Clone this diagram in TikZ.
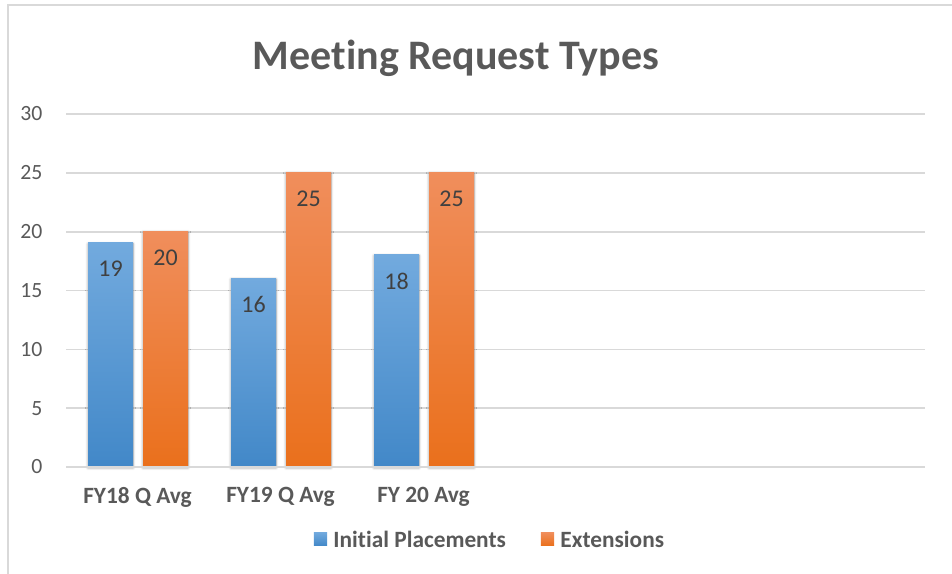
\documentclass[tikz,border=0pt]{standalone}
\usepackage{fontspec}
\setmainfont{Carlito}[Ligatures=NoCommon]
\usetikzlibrary{positioning, shadows.blur}
\definecolor{txtgray}{RGB}{89,89,89}
\definecolor{valgray}{RGB}{64,64,64}
\definecolor{gridgray}{RGB}{217,217,217}
\definecolor{framegray}{RGB}{217,217,217}
\definecolor{blutop}{RGB}{114,170,222}
\definecolor{blubot}{RGB}{66,136,200}
\definecolor{orgtop}{RGB}{240,142,92}
\definecolor{orgbot}{RGB}{234,112,28}
\tikzset{
  bar/.style = {anchor=south, inner sep=0pt, minimum width=33.75pt,
    blur shadow={shadow blur steps=6, shadow xshift=0pt, shadow yshift=-0.8pt, shadow opacity=40}},
  blubar/.style = {bar, top color=blutop, bottom color=blubot},
  orgbar/.style = {bar, top color=orgtop, bottom color=orgbot},
  val/.style = {text=valgray, font=\fontsize{18}{20}\selectfont},
  tick/.style = {text=txtgray, anchor=east, font=\fontsize{16.3}{18}\selectfont},
  cat/.style = {text=txtgray, font=\fontsize{17.5}{20}\selectfont\bfseries},
  key/.style = {inner sep=0pt, minimum size=10pt}
}
\newcommand{\ppu}{8.835pt}% height of one unit
\begin{document}
\begin{tikzpicture}[x=0.75pt, y=-0.75pt]
		\useasboundingbox (0, 0) rectangle (952, 574);
		%%%%%%%%%%%%%
		\draw [framegray, line width=1.5pt] (8, 574) -- (8, 5) -- (952, 5);
		\node [text=txtgray, font=\fontsize{31.5}{36}\selectfont\bfseries] (t) at (456, 58) {Meeting Request Types};
		%%%%%%%%%%%%%
		\foreach \v/\y in {0/467, 5/408.2, 10/349.3, 15/290.5, 20/231.7, 25/172.8, 30/114} {
			\draw [gridgray, line width=1.2pt] (66, \y) -- (925, \y);
			\node [tick] (y\v) at (47, \y) {\v};
		}
		%%%%%%%%%%%%%
		\node [blubar, minimum height=19*\ppu] (b1) at (110.5, 467) {};
		\node [orgbar, minimum height=20*\ppu] (b2) at (165.5, 467) {};
		\node [blubar, minimum height=16*\ppu] (b3) at (253.5, 467) {};
		\node [orgbar, minimum height=25*\ppu] (b4) at (308.5, 467) {};
		\node [blubar, minimum height=18*\ppu] (b5) at (396.5, 467) {};
		\node [orgbar, minimum height=25*\ppu] (b6) at (451.5, 467) {};
		\draw [gridgray, line width=1.2pt] (66, 467) -- (925, 467);
		%%%%%%%%%%%%%
		\node [val, below=10.5pt of b1.north] (v1) {19};
		\node [val, below=10.5pt of b2.north] (v2) {20};
		\node [val, below=10.5pt of b3.north] (v3) {16};
		\node [val, below=10.5pt of b4.north] (v4) {25};
		\node [val, below=10.5pt of b5.north] (v5) {18};
		\node [val, below=10.5pt of b6.north] (v6) {25};
		%%%%%%%%%%%%%
		\node [cat] (c1) at (137.5, 497) {FY18 Q Avg};
		\node [cat] (c2) at (280.5, 497) {FY19 Q Avg};
		\node [cat] (c3) at (423.5, 497) {FY 20 Avg};
		%%%%%%%%%%%%%
		\node [key, top color=blutop, bottom color=blubot] (k1) at (320.5, 539) {};
		\node [cat, right=1pt of k1] (l1) {Initial Placements};
		\node [key, top color=orgtop, bottom color=orgbot] (k2) at (547.5, 539) {};
		\node [cat, right=1pt of k2] (l2) {Extensions};
\end{tikzpicture}
\end{document}
